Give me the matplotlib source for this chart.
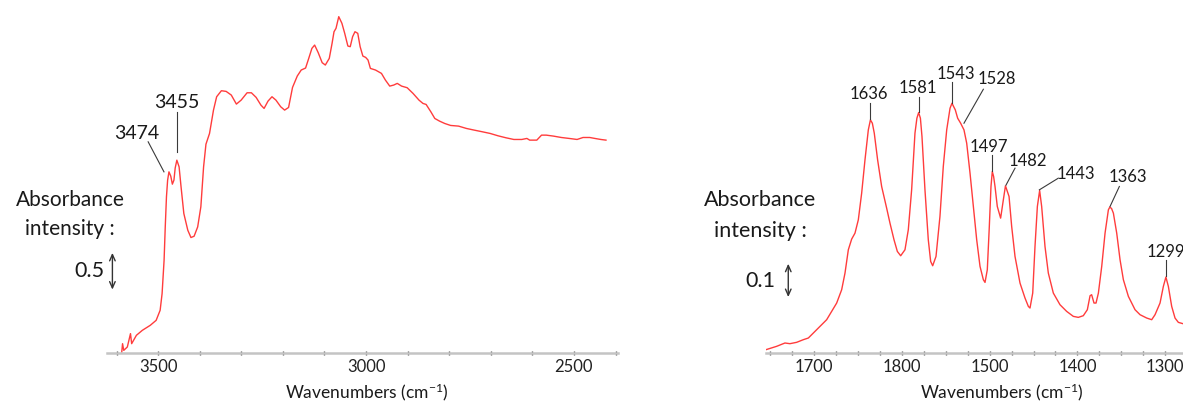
import matplotlib
matplotlib.use("Agg")
from matplotlib import pyplot as plt
from matplotlib.ticker import MultipleLocator, FixedLocator, FixedFormatter

plt.rcParams["font.family"] = ["Lato", "DejaVu Sans"]
plt.rcParams["mathtext.fontset"] = "custom"
plt.rcParams["mathtext.rm"] = "Lato"
plt.rcParams["mathtext.default"] = "regular"

# High-wavenumber region (N-H / C-H stretching)
left_wn = [3587.5, 3585.6, 3582.7, 3574.1, 3566.5, 3563.7, 3552.3, 3538.0, 3519.0, 3504.8,
           3495.2, 3490.5, 3485.7, 3482.9, 3480.0, 3477.2, 3474.0, 3469.6, 3465.8, 3462.0,
           3459.0, 3455.0, 3449.6, 3444.9, 3438.2, 3428.7, 3421.1, 3413.5, 3404.9, 3397.3,
           3390.7, 3385.0, 3376.4, 3366.9, 3359.3, 3347.9, 3336.5, 3324.1, 3311.8, 3300.4,
           3286.1, 3275.7, 3264.3, 3252.8, 3245.2, 3235.7, 3226.2, 3216.7, 3205.3, 3195.8,
           3186.3, 3176.8, 3165.4, 3155.9, 3145.4, 3137.8, 3130.2, 3123.6, 3115.0, 3105.5,
           3097.9, 3088.4, 3081.7, 3077.0, 3072.2, 3065.6, 3058.0, 3051.3, 3043.7, 3038.0,
           3032.3, 3026.6, 3019.9, 3014.2, 3007.6, 3000.9, 2995.2, 2989.5, 2977.2, 2962.9,
           2953.4, 2943.0, 2933.5, 2924.9, 2914.5, 2901.1, 2886.9, 2872.6, 2863.1, 2855.5,
           2844.1, 2834.6, 2823.2, 2810.8, 2796.6, 2777.5, 2758.5, 2739.5, 2720.5, 2701.5,
           2682.5, 2663.5, 2644.5, 2625.4, 2613.1, 2606.4, 2589.3, 2577.9, 2566.5, 2549.4,
           2530.4, 2511.4, 2492.4, 2478.1, 2462.0, 2449.6, 2435.3, 2422.9]
left_abs = [0.014, 0.127, 0.036, 0.082, 0.264, 0.127, 0.241, 0.309, 0.377, 0.445,
            0.582, 0.809, 1.264, 1.718, 2.127, 2.355, 2.468, 2.409, 2.300, 2.355,
            2.520, 2.627, 2.536, 2.264, 1.900, 1.673, 1.573, 1.591, 1.718, 1.991,
            2.536, 2.845, 2.991, 3.309, 3.491, 3.573, 3.564, 3.514, 3.391, 3.445,
            3.545, 3.545, 3.482, 3.377, 3.332, 3.432, 3.491, 3.445, 3.355, 3.309,
            3.345, 3.618, 3.773, 3.855, 3.882, 4.014, 4.150, 4.195, 4.091, 3.955,
            3.923, 4.014, 4.218, 4.377, 4.423, 4.582, 4.491, 4.355, 4.182, 4.173,
            4.309, 4.377, 4.355, 4.173, 4.045, 4.027, 3.991, 3.877, 3.855, 3.809,
            3.718, 3.636, 3.650, 3.673, 3.636, 3.614, 3.536, 3.445, 3.400, 3.386,
            3.286, 3.195, 3.159, 3.127, 3.100, 3.091, 3.059, 3.036, 3.014, 2.991,
            2.959, 2.932, 2.909, 2.909, 2.923, 2.900, 2.900, 2.968, 2.968, 2.955,
            2.936, 2.923, 2.909, 2.936, 2.936, 2.923, 2.909, 2.900]

# Fingerprint region
right_wn = [1755.1, 1743.0, 1733.5, 1727.8, 1720.2, 1712.5, 1706.8, 1701.1, 1693.5, 1685.9,
            1680.2, 1674.5, 1668.8, 1665.0, 1661.2, 1657.4, 1653.6, 1649.8, 1646.0, 1642.2,
            1638.4, 1636.0, 1633.8, 1631.6, 1627.8, 1623.2, 1617.5, 1613.7, 1609.1, 1605.3,
            1601.5, 1596.6, 1592.8, 1589.0, 1585.2, 1583.0, 1581.0, 1579.0, 1577.2, 1573.8,
            1570.0, 1567.3, 1565.0, 1561.2, 1556.7, 1552.9, 1549.0, 1545.2, 1543.0, 1539.2,
            1536.5, 1533.1, 1529.3, 1526.2, 1522.4, 1518.6, 1514.8, 1511.0, 1507.2, 1505.3,
            1502.7, 1500.4, 1498.5, 1497.0, 1495.5, 1493.9, 1491.3, 1487.5, 1484.4, 1482.0,
            1477.9, 1474.9, 1471.1, 1465.4, 1459.7, 1455.9, 1454.0, 1450.9, 1448.3, 1445.6,
            1443.0, 1440.7, 1436.9, 1433.1, 1427.4, 1419.8, 1412.2, 1404.6, 1398.9, 1393.2,
            1388.6, 1385.5, 1383.7, 1381.0, 1378.7, 1376.0, 1372.2, 1368.4, 1364.6, 1363.0,
            1361.0, 1358.9, 1355.1, 1351.3, 1347.5, 1341.8, 1334.2, 1328.5, 1320.9, 1315.2,
            1311.4, 1305.7, 1301.9, 1299.0, 1296.2, 1292.4, 1288.6, 1284.8, 1279.5]
right_abs = [0.010, 0.020, 0.030, 0.028, 0.032, 0.040, 0.045, 0.060, 0.080, 0.100,
             0.125, 0.150, 0.190, 0.240, 0.310, 0.342, 0.360, 0.400, 0.480, 0.580,
             0.670, 0.700, 0.690, 0.660, 0.580, 0.500, 0.435, 0.390, 0.340, 0.305,
             0.292, 0.310, 0.370, 0.490, 0.660, 0.705, 0.722, 0.705, 0.650, 0.490,
             0.340, 0.275, 0.262, 0.290, 0.410, 0.560, 0.670, 0.735, 0.750, 0.730,
             0.705, 0.690, 0.670, 0.630, 0.540, 0.440, 0.340, 0.260, 0.220, 0.212,
             0.250, 0.380, 0.500, 0.545, 0.530, 0.500, 0.440, 0.405, 0.460, 0.502,
             0.470, 0.380, 0.290, 0.210, 0.165, 0.140, 0.135, 0.180, 0.320, 0.440,
             0.488, 0.440, 0.320, 0.240, 0.180, 0.145, 0.125, 0.110, 0.107, 0.112,
             0.130, 0.172, 0.175, 0.150, 0.150, 0.180, 0.260, 0.360, 0.430, 0.438,
             0.434, 0.420, 0.360, 0.280, 0.220, 0.170, 0.130, 0.115, 0.105, 0.100,
             0.115, 0.150, 0.200, 0.228, 0.200, 0.140, 0.105, 0.092, 0.088]

right_ticks = [1700, 1600, 1500, 1400, 1300]
right_tick_labels = ["1700", "1800", "1500", "1400", "1300"]

# peak label: (text, text x, text y, line start, line end)
left_peaks = [
    ("3474", 3551, 2.99, (3524, 2.877), (3486, 2.468)),
    ("3455", 3455, 3.41, (3455, 3.277), (3455, 2.741)),
]
right_peaks = [
    ("1636", 1637.6, 0.778, (1636, 0.750), (1636, 0.702)),
    ("1581", 1581.8, 0.797, (1581, 0.770), (1581, 0.725)),
    ("1543", 1538.8, 0.837, (1543, 0.815), (1543, 0.752)),
    ("1528", 1491.3, 0.822, (1507.2, 0.792), (1529.3, 0.690)),
    ("1497", 1500.8, 0.620, (1497, 0.595), (1497, 0.547)),
    ("1482", 1456.3, 0.578, (1471.1, 0.555), (1481.4, 0.504)),
    ("1443", 1401.9, 0.537, (1421.7, 0.525), (1443.3, 0.490)),
    ("1363", 1342.9, 0.527, (1352.1, 0.500), (1362.7, 0.440)),
    ("1299", 1299.0, 0.304, (1299, 0.280), (1299, 0.230)),
]

W, H = 1183, 403
fig = plt.figure(figsize=(W / 100, H / 100), dpi=100)

line_col = "#ff3c3c"
txt_col = "#1a1a1a"


def setup_axis(ax):
    for s in ["top", "left", "right"]:
        ax.spines[s].set_visible(False)
    ax.spines["bottom"].set_color("#c4c4c4")
    ax.spines["bottom"].set_linewidth(1.8)
    ax.set_yticks([])
    ax.tick_params(axis="x", which="both", direction="inout", length=3, width=1,
                   color="#555555", labelsize=12, labelcolor="#222222", pad=3)
    ax.patch.set_visible(False)


ax1 = fig.add_axes([107 / W, 50 / H, 511 / W, 353 / H])
ax1.plot(left_wn, left_abs, color=line_col, lw=1.0)
ax1.set_xlim(3623, 2394)
ax1.set_ylim(0, 4.809)
setup_axis(ax1)
ax1.xaxis.set_major_locator(FixedLocator([3500, 3000, 2500]))
ax1.xaxis.set_minor_locator(MultipleLocator(100))

for lab, tx, ty, p0, p1 in left_peaks:
    ax1.plot([p0[0], p1[0]], [p0[1], p1[1]], color="#3a3a3a", lw=0.8)
    ax1.text(tx, ty, lab, ha="center", va="center", fontsize=14, color=txt_col)

ax1.annotate("", xy=(3610, 0.864), xytext=(3610, 1.364),
             arrowprops=dict(arrowstyle="<->,head_length=0.45,head_width=0.2",
                             color="#333333", lw=1.0, shrinkA=0, shrinkB=0),
             annotation_clip=False)
ax1.text(3628, 1.114, "0.5", ha="right", va="center", fontsize=15.5, color=txt_col,
         clip_on=False)

ax2 = fig.add_axes([766 / W, 50 / H, 417 / W, 353 / H])
ax2.plot(right_wn, right_abs, color=line_col, lw=1.0)
ax2.set_xlim(1755.1, 1279.5)
ax2.set_ylim(0, 1.06)
setup_axis(ax2)
ax2.xaxis.set_major_locator(FixedLocator(right_ticks))
ax2.xaxis.set_major_formatter(FixedFormatter(right_tick_labels))
ax2.xaxis.set_minor_locator(MultipleLocator(25))

for lab, tx, ty, p0, p1 in right_peaks:
    ax2.plot([p0[0], p1[0]], [p0[1], p1[1]], color="#3a3a3a", lw=0.8)
    ax2.text(tx, ty, lab, ha="center", va="center", fontsize=12, color=txt_col)

ax2.annotate("", xy=(1729.7, 0.168), xytext=(1729.7, 0.268),
             arrowprops=dict(arrowstyle="<->,head_length=0.45,head_width=0.2",
                             color="#333333", lw=1.0, shrinkA=0, shrinkB=0),
             annotation_clip=False)
ax2.text(1744.9, 0.215, "0.1", ha="right", va="center", fontsize=15.5, color=txt_col,
         clip_on=False)

# side captions and axis titles
fig.text(70 / W, 1 - 200 / H, "Absorbance", ha="center", va="center", fontsize=15, color=txt_col)
fig.text(70 / W, 1 - 229 / H, "intensity :", ha="center", va="center", fontsize=15, color=txt_col)
fig.text(760 / W, 1 - 200 / H, "Absorbance", ha="center", va="center", fontsize=15.5, color=txt_col)
fig.text(760 / W, 1 - 231 / H, "intensity :", ha="center", va="center", fontsize=15.5, color=txt_col)

fig.text(367 / W, 1 - 392 / H, "Wavenumbers (cm$^{-1}$)", ha="center", va="center",
         fontsize=12.5, color=txt_col)
fig.text(1002 / W, 1 - 392 / H, "Wavenumbers (cm$^{-1}$)", ha="center", va="center",
         fontsize=12.5, color=txt_col)

fig.savefig("out.png", dpi=100, facecolor="white")
